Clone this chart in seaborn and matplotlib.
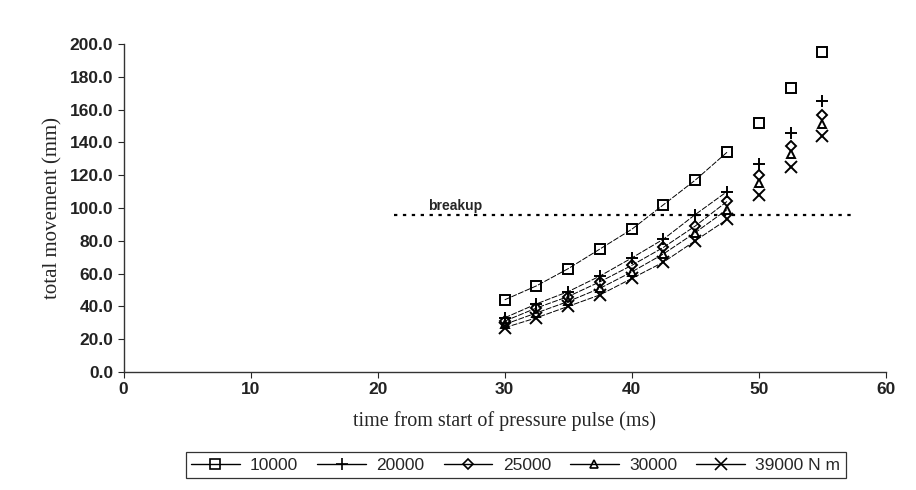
import pandas as pd
import numpy as np
import matplotlib.pyplot as plt
import seaborn as sns
from matplotlib.lines import Line2D

# time from start of pressure pulse (ms)
time_ms = [30, 32.5, 35, 37.5, 40, 42.5, 45, 47.5, 50, 52.5, 55]

# total movement (mm) for each stiffness
mov_10000 = [44, 52.5, 63, 75, 87, 102, 117, 134, 152, 173, 195]
mov_20000 = [33, 41.5, 49, 58.5, 69.5, 81, 96, 110, 127, 146, 165]
mov_25000 = [31, 39, 46, 55, 65, 76, 89, 104, 120, 138, 157]
mov_30000 = [29, 36, 43, 51, 61, 72, 85, 99, 115, 133, 151]
mov_39000 = [27, 33, 40, 47, 57, 67, 80, 93, 108, 125, 144]

series_names = ["10000", "20000", "25000", "30000", "39000 N m"]
markers = ["s", "+", "D", "^", "x"]
marker_sizes = [7, 9, 5, 6, 8]

breakup_level = 96
breakup_x = [21.3, 57.6]

rows = []
for name, vals in zip(series_names, [mov_10000, mov_20000, mov_25000, mov_30000, mov_39000]):
    for t, v in zip(time_ms, vals):
        rows.append({"time": t, "movement": v, "series": name})
df = pd.DataFrame(rows)

sns.set_style("white")
plt.rcParams['font.family'] = ['Liberation Sans', 'DejaVu Sans']

fig = plt.figure(figsize=(9.16, 4.9), dpi=100)
ax = fig.add_axes([0.135, 0.241, 0.832, 0.669])

for name, m, ms in zip(series_names, markers, marker_sizes):
    sub = df[df["series"] == name]
    fitted = sub[sub["time"] <= 47.5]
    sns.lineplot(data=fitted, x="time", y="movement", ax=ax, color="black",
                 linewidth=0.7, linestyle=(0, (6, 1.5)), legend=False)
    ax.plot(sub["time"], sub["movement"], linestyle="none", marker=m, markersize=ms,
            markerfacecolor="none", markeredgecolor="black", markeredgewidth=1.4)

ax.plot(breakup_x, [breakup_level, breakup_level], color="black", linestyle=(0, (1.5, 2.5)),
        linewidth=1.6)
ax.text(24, breakup_level + 3, "breakup", fontsize=10, fontweight="bold")

ax.set_xlim(0, 60)
ax.set_ylim(0, 200)
ax.set_xticks(range(0, 61, 10))
ax.set_yticks(range(0, 201, 20))
ax.set_yticklabels([f"{v:.1f}" for v in range(0, 201, 20)])
ax.tick_params(axis="both", labelsize=12.5, direction="out", length=4, width=0.8, bottom=True, left=True)
for lab in ax.get_xticklabels() + ax.get_yticklabels():
    lab.set_fontweight("bold")
    lab.set_color("#222222")

ax.set_xlabel("time from start of pressure pulse (ms)", fontsize=14.5, family="Liberation Serif", labelpad=10)
ax.set_ylabel("total movement (mm)", fontsize=15, family="Liberation Serif", labelpad=5)

for side in ["top", "right"]:
    ax.spines[side].set_visible(False)
for side in ["left", "bottom"]:
    ax.spines[side].set_color("#333333")
    ax.spines[side].set_linewidth(1.0)

handles = [Line2D([0], [0], color="black", linewidth=1, marker=m, markersize=ms,
                  markerfacecolor="none", markeredgecolor="black", markeredgewidth=1.2)
           for m, ms in zip(markers, marker_sizes)]
leg = fig.legend(handles, series_names, loc="center", bbox_to_anchor=(0.563, 0.051), ncol=5,
                 frameon=True, fancybox=False, fontsize=12.5, handlelength=2.8, columnspacing=1.1,
                 handletextpad=0.6, borderpad=0.3)
leg.get_frame().set_edgecolor("black")
leg.get_frame().set_linewidth(0.9)

fig.savefig("out.png", dpi=100)
